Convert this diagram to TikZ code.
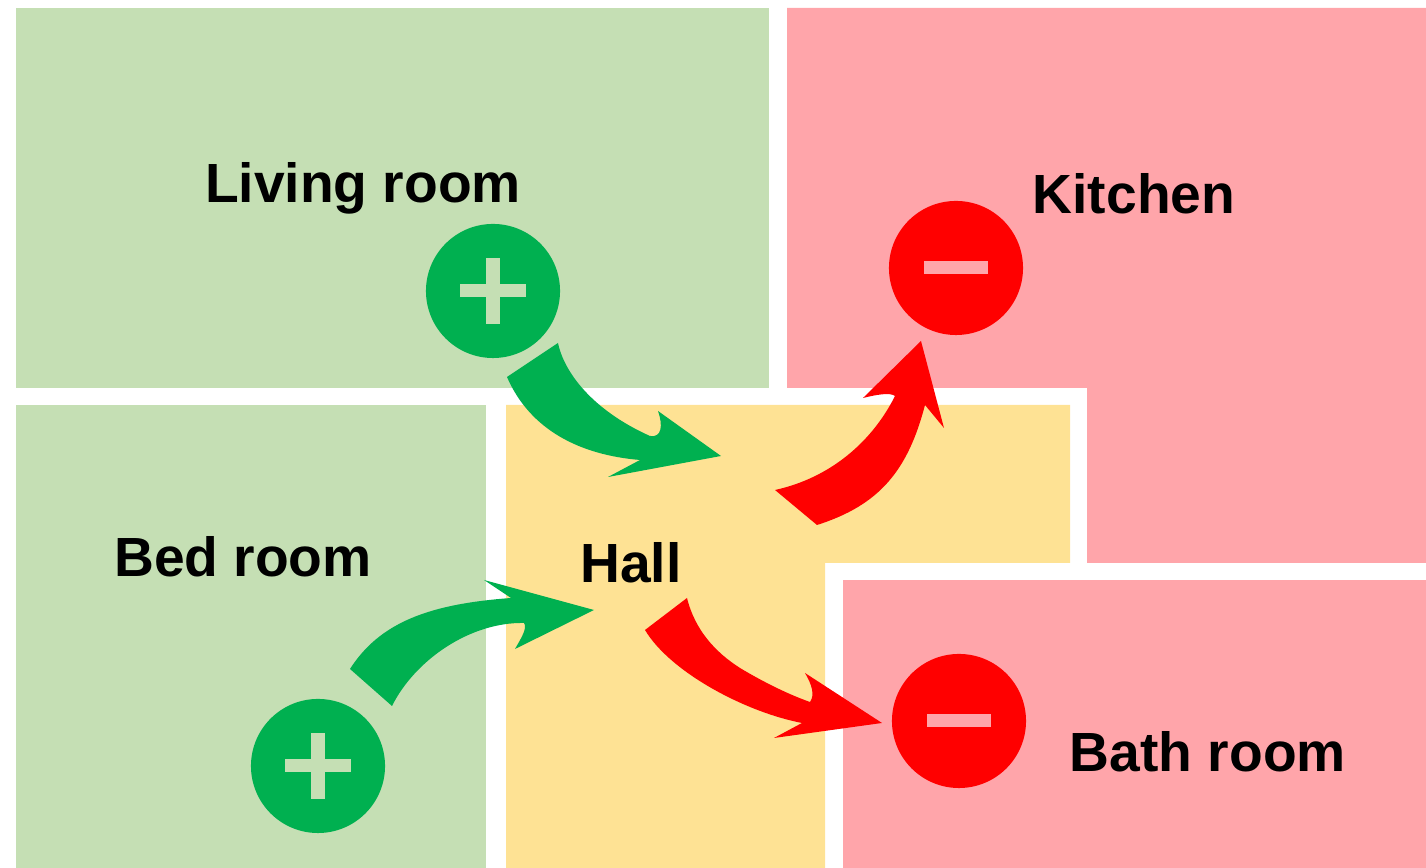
\documentclass[tikz,border=0pt]{standalone}
\usepackage{fontspec}
\setmainfont{Liberation Sans}
\usepackage{xcolor}
\usetikzlibrary{positioning}
\definecolor{goodroom}{HTML}{C5DFB4}
\definecolor{badroom}{HTML}{FFA5AA}
\definecolor{hallroom}{HTML}{FEE294}
\definecolor{goodflow}{HTML}{00B050}
\definecolor{badflow}{HTML}{FF0000}
\newcommand\Lbl{\fontsize{15.7}{18}\selectfont\bfseries}

\begin{document}
\begin{tikzpicture}[x = 0.01cm, y = -0.01cm,
    roomlabel/.style = {anchor = base, inner sep = 0pt, black, font = \Lbl},
    badge/.style = {circle, minimum size = 1.34cm, inner sep = 0pt},
    plusbadge/.style = {badge, fill = goodflow, path picture = {
        \fill[goodroom] ([xshift=-0.33cm, yshift=-0.065cm]path picture bounding box.center) rectangle ++(0.66cm, 0.13cm);
        \fill[goodroom] ([xshift=-0.065cm, yshift=-0.33cm]path picture bounding box.center) rectangle ++(0.13cm, 0.66cm);
    }},
    minusbadge/.style = {badge, fill = badflow, path picture = {
        \fill[badroom] ([xshift=-0.32cm, yshift=-0.065cm]path picture bounding box.center) rectangle ++(0.64cm, 0.13cm);
    }}]
    \useasboundingbox (0,0) rectangle (1426,868);

    % rooms
    \fill[goodroom] (16,8) rectangle (769,388);
    \fill[goodroom] (16,405) rectangle (486,868);
    \fill[badroom] (787,8) -- (1426,8) -- (1426,563) -- (1087,563) -- (1087,388) -- (787,388) -- cycle;
    \fill[badroom] (843,580) rectangle (1426,868);
    \fill[hallroom] (506,405) -- (1070,405) -- (1070,563) -- (825,563) -- (825,868) -- (506,868) -- cycle;

    % arrows
    \fill[goodflow] (558,343) .. controls (564,372) and (592,410) .. (650,436)
        .. controls (662,438) and (663,425) .. (658,411) -- (721,456) -- (608,477) -- (640,460)
        .. controls (580,455) and (530,430) .. (507,377) -- cycle;
    \fill[goodflow] (350,669) .. controls (380,622) and (430,604) .. (511,598)
        -- (484,580) -- (594,610) -- (515,649) .. controls (520,640) and (528,628) .. (524,623)
        .. controls (470,622) and (415,660) .. (392,706) -- cycle;
    \fill[badflow] (775,490) .. controls (830,478) and (872,442) .. (895,396)
        .. controls (890,392) and (875,395) .. (863,398) -- (921,341) -- (944,428) -- (925,405)
        .. controls (908,470) and (880,505) .. (817,525) -- cycle;
    \fill[badflow] (687,598) .. controls (695,630) and (715,652) .. (740,668)
        .. controls (765,683) and (790,695) .. (810,702) .. controls (815,695) and (812,685) .. (805,673)
        -- (882,723) -- (774,738) -- (802,723) .. controls (745,712) and (670,672) .. (645,630) -- cycle;

    % badges
    \node[plusbadge] (livingplus) at (493,291) {};
    \node[plusbadge] (bedplus) at (318,766) {};
    \node[minusbadge] (kitchenminus) at (956,268) {};
    \node[minusbadge] (bathminus) at (959,721) {};

    % labels
    \node[roomlabel] (living) at (363,203) {Living room};
    \node[roomlabel] (kitchen) at (1134,214) {Kitchen};
    \node[roomlabel] (bed) at (243,577) {Bed room};
    \node[roomlabel] (hall) at (631,583) {Hall};
    \node[roomlabel] (bath) at (1208,772) {Bath room};
\end{tikzpicture}
\end{document}
